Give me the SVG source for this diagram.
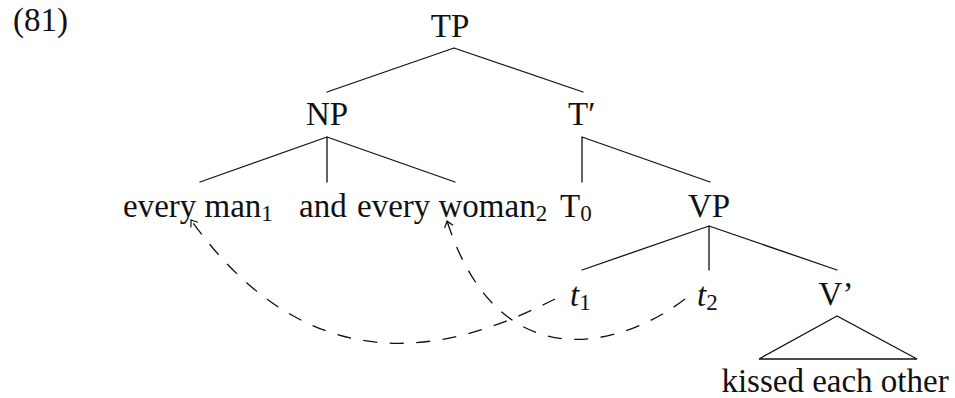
<svg xmlns="http://www.w3.org/2000/svg" width="955" height="398" viewBox="0 0 955 398">
<style>
text{font-family:"Liberation Serif","Times New Roman",serif;font-size:33px;fill:#111}
.sub{font-size:23px}
.it{font-style:italic}
.e{stroke:#111;stroke-width:1.3;fill:none;stroke-linecap:round}
.mv{stroke:#111;stroke-width:1.3;fill:none;stroke-dasharray:14 12.5}
.ah{stroke:#111;stroke-width:1.2;fill:none;stroke-dasharray:none}
</style>
<defs>
<marker id="arr" markerUnits="userSpaceOnUse" markerWidth="16" markerHeight="16" refX="0" refY="0" viewBox="-8 -8 16 16" orient="auto" overflow="visible">
<path class="ah" d="M-6,-4.5 Q-2,-1.2 0,0 Q-2,1.2 -6,4.5"/>
</marker>
</defs>
<text x="13" y="31">(81)</text>
<g id="TP"><text x="450" y="37" text-anchor="middle">TP</text></g>
<g id="NP"><text x="327" y="125" text-anchor="middle">NP</text></g>
<g id="Tbar"><text x="568" y="125">T′</text></g>
<g id="everyman"><text x="123" y="217">every man<tspan class="sub" dy="4">1</tspan></text></g>
<g id="and"><text x="299" y="217">and</text></g>
<g id="everywoman"><text x="357" y="217">every woman<tspan class="sub" dy="4">2</tspan></text></g>
<g id="T0"><text x="560" y="217">T<tspan class="sub" dy="4">0</tspan></text></g>
<g id="VP"><text x="709" y="217" text-anchor="middle">VP</text></g>
<g id="t1"><text x="570" y="306"><tspan class="it">t</tspan><tspan class="sub" dy="4">1</tspan></text></g>
<g id="t2"><text x="697" y="306"><tspan class="it">t</tspan><tspan class="sub" dy="4">2</tspan></text></g>
<g id="Vbar"><text x="836" y="305" text-anchor="middle">V’</text></g>
<g id="kissed"><path class="e" d="M837,316 L759,359 L917,359 Z"/><text x="835" y="392" text-anchor="middle">kissed each other</text></g>
<g id="connectors">
<path class="e" d="M454,48 L327,92 M454,48 L583,92"/>
<path class="e" d="M327,137 L200,182 M327,137 L327,182 M327,137 L455,182"/>
<path class="e" d="M582,137 L582,182 M582,137 L710,182"/>
<path class="e" d="M709,226 L582,270 M709,226 L709,270 M709,226 L837,270"/>
<path class="mv" d="M555,299 C470,342 320,400 191,220" marker-end="url(#arr)"/>
<path class="mv" d="M685,299 C625,345 500,385 447,221" marker-end="url(#arr)"/>
</g>
</svg>
